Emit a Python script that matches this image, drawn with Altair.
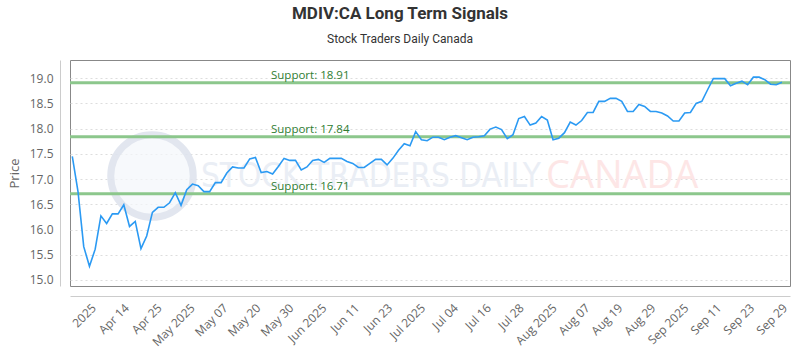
import json
import altair as alt
import pandas as pd

# ---- data ----
prices = [
    17.45, 16.75, 15.66, 15.27, 15.61, 16.27, 16.12, 16.31, 16.31, 16.49,
    16.06, 16.16, 15.62, 15.87, 16.34, 16.44, 16.44, 16.53, 16.73, 16.48,
    16.79, 16.90, 16.87, 16.75, 16.75, 16.93, 16.93, 17.12, 17.24, 17.22,
    17.22, 17.40, 17.43, 17.13, 17.15, 17.10, 17.25, 17.41, 17.37, 17.37,
    17.18, 17.24, 17.37, 17.39, 17.33, 17.41, 17.41, 17.41, 17.35, 17.31,
    17.23, 17.23, 17.31, 17.39, 17.39, 17.28, 17.41, 17.57, 17.70, 17.66,
    17.94, 17.78, 17.76, 17.83, 17.83, 17.78, 17.83, 17.86, 17.82, 17.78,
    17.83, 17.84, 17.86, 17.99, 18.03, 17.98, 17.80, 17.88, 18.20, 18.24,
    18.07, 18.11, 18.24, 18.17, 17.78, 17.81, 17.92, 18.13, 18.07, 18.16,
    18.32, 18.32, 18.54, 18.54, 18.60, 18.60, 18.54, 18.34, 18.34, 18.48,
    18.44, 18.34, 18.34, 18.31, 18.25, 18.15, 18.15, 18.31, 18.32, 18.50,
    18.54, 18.77, 18.99, 18.99, 18.99, 18.85, 18.90, 18.94, 18.87, 19.02,
    19.02, 18.97, 18.88, 18.87, 18.92,
]
support_levels = [18.91, 17.84, 16.71]
tick_labels = [
    "2025", "Apr 14", "Apr 25", "May 2025", "May 07", "May 20", "May 30",
    "Jun 2025", "Jun 11", "Jun 23", "Jul 2025", "Jul 04", "Jul 16", "Jul 28",
    "Aug 2025", "Aug 07", "Aug 19", "Aug 29", "Sep 2025", "Sep 11", "Sep 23",
    "Sep 29",
]
y_ticks = [15.0, 15.5, 16.0, 16.5, 17.0, 17.5, 18.0, 18.5, 19.0]

# ---- tables ----
df = pd.DataFrame({"i": list(range(len(prices))), "price": prices})
sup = pd.DataFrame({
    "level": support_levels,
    "label": [f"Support: {v:.2f}" for v in support_levels],
})
one = pd.DataFrame({"k": [0]})

TICK0, TICKSTEP = 3.1, 5.75
tick_vals = [TICK0 + TICKSTEP * k for k in range(len(tick_labels))]
label_expr = (json.dumps(tick_labels) +
              f"[round((datum.value - {TICK0}) / {TICKSTEP})]")

x_scale = alt.Scale(domain=[-0.4, 125.4], nice=False, zero=False)
y_scale = alt.Scale(domain=[14.88, 19.36], nice=False, zero=False)

x_axis = alt.Axis(
    values=tick_vals, labelExpr=label_expr, labelAngle=-45, grid=False,
    ticks=False, domain=True, domainColor="#cccccc", offset=10, title=None,
    labelFont="Open Sans", labelFontSize=12, labelColor="#666666",
    labelPadding=6, labelOverlap=False, labelFlush=False,
)
y_axis = alt.Axis(
    values=y_ticks, format=".1f", grid=True, gridDash=[2, 3],
    gridColor="#dddddd", ticks=False, domain=True, domainColor="#cccccc",
    offset=10, title="Price", titleFont="Open Sans", titleFontSize=13,
    titleFontWeight="normal", titleColor="#666666", titlePadding=8,
    labelFont="Open Sans", labelFontSize=12, labelColor="#666666",
    labelPadding=7,
)

# ---- watermark ----
wm_circle = alt.Chart(one).mark_point(
    shape="circle", filled=False, stroke="#dfe4ee", strokeWidth=7,
    fill="#f5f7fb", fillOpacity=0.8, opacity=0.9,
).encode(x=alt.value(82), y=alt.value(116), size=alt.value(6800))
wm_text1 = alt.Chart(one).mark_text(
    text="STOCK TRADERS DAILY", font="DejaVu Sans Condensed", fontSize=33,
    color="#eaeef5", align="left", baseline="middle",
).encode(x=alt.value(131), y=alt.value(117))
wm_text2 = alt.Chart(one).mark_text(
    text="CANADA", font="Open Sans", fontSize=38, color="#fde6e6",
    align="left", baseline="middle",
).encode(x=alt.value(476), y=alt.value(117))

# ---- support lines ----
sup_rules = alt.Chart(sup).mark_rule(color="#8cc78c", strokeWidth=3).encode(
    y=alt.Y("level:Q", scale=y_scale, axis=y_axis)
)
sup_text = alt.Chart(sup).mark_text(
    align="left", baseline="bottom", dy=-2, color="#2e7d32",
    font="Open Sans", fontSize=11.5,
).encode(
    x=alt.value(201), y=alt.Y("level:Q", scale=y_scale, axis=y_axis),
    text="label:N",
)

# ---- price line ----
line = alt.Chart(df).mark_line(color="#2b9af3", strokeWidth=1.6).encode(
    x=alt.X("i:Q", scale=x_scale, axis=x_axis),
    y=alt.Y("price:Q", scale=y_scale, axis=y_axis),
)

chart = alt.layer(
    wm_circle, wm_text1, wm_text2, sup_rules, line, sup_text
).properties(
    width=720, height=226,
    autosize=alt.AutoSizeParams(type="none"),
    padding={"left": 70, "top": 60, "right": 10, "bottom": 64},
    title=alt.TitleParams(
        "MDIV:CA Long Term Signals", subtitle="Stock Traders Daily Canada",
        font="Roboto", fontSize=17, fontWeight="bold", color="#333333",
        subtitleFont="Roboto", subtitleFontSize=12, subtitleColor="#333333",
        anchor="middle", frame="group", dx=-30, offset=14, subtitlePadding=11,
    ),
).configure_view(stroke="#888888", strokeWidth=1)

chart.save("out.html", embed_options={"renderer": "svg", "actions": False})
